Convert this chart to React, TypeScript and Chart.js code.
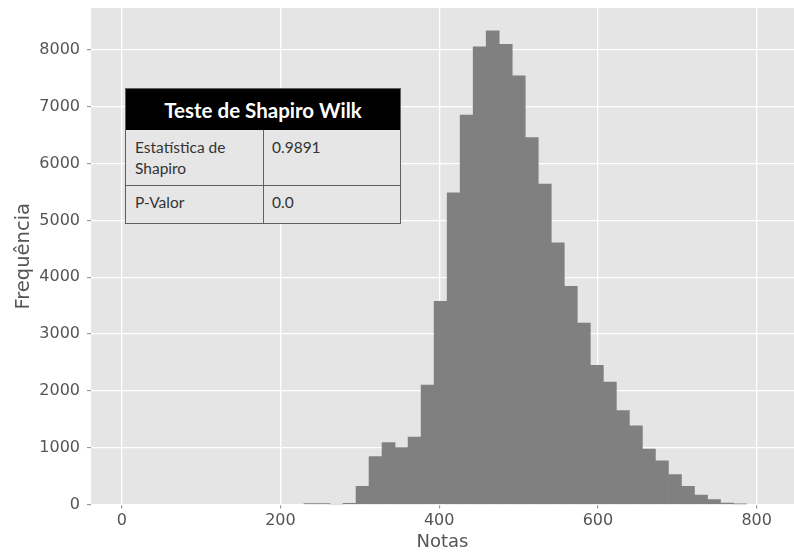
import React, { useEffect, useRef } from "react";
import { Chart, registerables } from "chart.js";

Chart.register(...registerables);

// Histogram bins (centre of each bin, in "Notas" units) and their counts
const binCenters = [
  237.8, 254.2, 270.6, 287.0, 303.4, 319.8, 336.2, 352.6, 369.0, 385.4,
  401.8, 418.2, 434.6, 451.0, 467.4, 483.8, 500.2, 516.6, 533.0, 549.4,
  565.8, 582.2, 598.6, 615.0, 631.4, 647.8, 664.2, 680.6, 697.0, 713.4,
  729.8, 746.2, 762.6, 779.0,
];
const counts = [
  15, 15, 0, 20, 320, 845, 1090, 1000, 1185, 2100,
  3575, 5485, 6855, 8055, 8340, 8100, 7545, 6460, 5640, 4605,
  3840, 3195, 2450, 2155, 1655, 1385, 975, 770, 525, 320,
  165, 85, 25, 8,
];
const xTicks = [0, 200, 400, 600, 800];
const yTicks = [0, 1000, 2000, 3000, 4000, 5000, 6000, 7000, 8000];

const xLabel = "Notas";
const yLabel = "Frequência";
const tableTitle = "Teste de Shapiro Wilk";
const tableRows: [string[], string][] = [
  [["Estatística de", "Shapiro"], "0.9891"],
  [["P-Valor"], "0.0"],
];

const bgPlugin = {
  id: "plotBg",
  beforeDraw(chart: any) {
    const { ctx, chartArea } = chart;
    ctx.save();
    ctx.fillStyle = "#e5e5e5";
    ctx.fillRect(chartArea.left, chartArea.top, chartArea.right - chartArea.left, chartArea.bottom - chartArea.top);
    ctx.restore();
  },
};

export default function App() {
  const ref = useRef<HTMLCanvasElement | null>(null);

  useEffect(() => {
    if (!ref.current) return;
    const chart = new Chart(ref.current, {
      type: "bar",
      data: {
        datasets: [
          {
            data: binCenters.map((x, i) => ({ x, y: counts[i] })),
            backgroundColor: "#808080",
            borderWidth: 0,
            barPercentage: 1,
            categoryPercentage: 1,
          },
        ],
      },
      options: {
        animation: false,
        responsive: false,
        devicePixelRatio: 1,
        layout: { padding: { top: 0, right: 0, left: 0, bottom: 0 } },
        plugins: { legend: { display: false }, tooltip: { enabled: false } },
        scales: {
          x: {
            type: "linear",
            offset: false,
            min: -38.7,
            max: 847,
            afterBuildTicks: (s: any) => {
              s.ticks = xTicks.map((v) => ({ value: v }));
            },
            afterFit: (s: any) => {
              s.height = 48.5;
            },
            border: { display: false },
            grid: { offset: false, color: "#ffffff", lineWidth: 1.3, tickColor: "#888888", tickLength: 4, tickWidth: 1 },
            ticks: {
              color: "#555555",
              padding: 3,
              maxRotation: 0,
              callback: (v: any) => String(v),
              font: { family: "DejaVu Sans", size: 16 },
            },
            title: {
              display: true,
              text: xLabel,
              color: "#555555",
              padding: { top: 0, bottom: 0 },
              font: { family: "DejaVu Sans", size: 18 },
            },
          },
          y: {
            min: 0,
            max: 8740,
            afterBuildTicks: (s: any) => {
              s.ticks = yTicks.map((v) => ({ value: v }));
            },
            afterFit: (s: any) => {
              s.width = 91;
              s.paddingTop = 8;
              s.paddingBottom = 0;
            },
            border: { display: false },
            grid: { color: "#ffffff", lineWidth: 1.3, tickColor: "#888888", tickLength: 4, tickWidth: 1 },
            ticks: {
              color: "#555555",
              padding: 7,
              callback: (v: any) => String(v),
              font: { family: "DejaVu Sans", size: 16 },
            },
            title: {
              display: true,
              text: yLabel,
              color: "#555555",
              padding: { top: 12, bottom: 0 },
              font: { family: "DejaVu Sans", size: 19.5 },
            },
          },
        },
      },
      plugins: [bgPlugin],
    } as any);
    return () => chart.destroy();
  }, []);

  const cellFont = "Lato, 'Open Sans', sans-serif";
  const border = "1px solid #606060";
  const cellText = { position: "absolute" as const, fontSize: 15.5, lineHeight: "21px", color: "#333333" };

  return (
    <div style={{ position: "fixed", left: 0, top: 0, width: 794, height: 553, background: "#ffffff", overflow: "hidden" }}>
      <canvas ref={ref} width={794} height={553} style={{ display: "block", width: 794, height: 553 }} />
      <div
        style={{
          position: "absolute",
          left: 125,
          top: 88,
          width: 276,
          height: 136,
          border,
          boxSizing: "border-box",
          background: "#e6e6e6",
          fontFamily: cellFont,
        }}
      >
        <div
          style={{
            position: "absolute",
            left: 0,
            top: 0,
            width: "100%",
            height: 41,
            background: "#000000",
            color: "#ffffff",
            fontWeight: 700,
            fontSize: 20.5,
            display: "flex",
            alignItems: "center",
            justifyContent: "center",
          }}
        >
          {tableTitle}
        </div>
        {/* column divider */}
        <div style={{ position: "absolute", left: 137, top: 41, width: 1, bottom: 0, background: "#606060" }} />
        {/* row divider */}
        <div style={{ position: "absolute", left: 0, right: 0, top: 96, height: 1, background: "#606060" }} />
        <div style={{ ...cellText, left: 9, top: 48 }}>
          {tableRows[0][0].map((t, i) => (
            <div key={i}>{t}</div>
          ))}
        </div>
        <div style={{ ...cellText, left: 146, top: 48 }}>{tableRows[0][1]}</div>
        <div style={{ ...cellText, left: 9, top: 103 }}>
          {tableRows[1][0].map((t, i) => (
            <div key={i}>{t}</div>
          ))}
        </div>
        <div style={{ ...cellText, left: 146, top: 103 }}>{tableRows[1][1]}</div>
      </div>
    </div>
  );
}
